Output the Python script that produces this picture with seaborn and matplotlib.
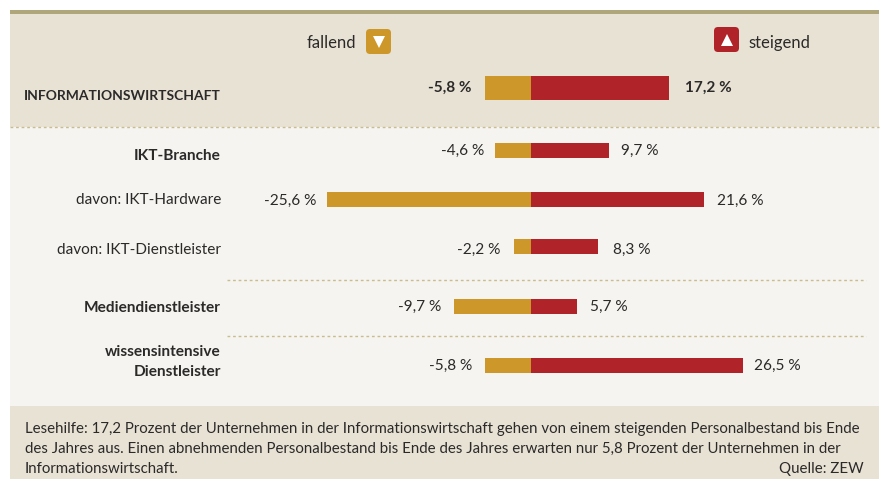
import matplotlib as mpl
from matplotlib import pyplot as plt
from matplotlib.patches import FancyBboxPatch, Rectangle
import seaborn as sns

categories = [
    "INFORMATIONSWIRTSCHAFT",
    "IKT-Branche",
    "davon: IKT-Hardware",
    "davon: IKT-Dienstleister",
    "Mediendienstleister",
    "wissensintensive\nDienstleister",
]
falling = [-5.8, -4.6, -25.6, -2.2, -9.7, -5.8]
rising = [17.2, 9.7, 21.6, 8.3, 5.7, 26.5]
note_lines = [
    "Lesehilfe: 17,2 Prozent der Unternehmen in der Informationswirtschaft gehen von einem steigenden Personalbestand bis Ende",
    "des Jahres aus. Einen abnehmenden Personalbestand bis Ende des Jahres erwarten nur 5,8 Prozent der Unternehmen in der",
    "Informationswirtschaft.",
]
source = "Quelle: ZEW"

# layout, in pixels of the 882x479 picture
row_y = [88, 150, 199, 246, 306, 365]
row_h = [24, 15, 15, 15, 15, 15]
label_y = [96, 156, 200, 249.5, 308, 362]
value_y = [88, 151, 201, 250, 307, 366]
fall_pad = [13, 10, 10, 13, 13, 13]
rise_pad = [16, 12, 13, 15, 13, 11]
bold_rows = [True, True, False, False, True, True]
ZERO_X = 531.4
PX_PER_UNIT = 8
PT_PER_PX = 0.72

GOLD = "#CD9829"
RED = "#B02329"
SAND = "#E8E2D5"
PAPER = "#F5F4F0"
RULE = "#B0A67C"
DOTS = "#C9BD8F"
INK = "#2B2A29"

sns.set_theme(style="white")
plt.rcParams["font.family"] = ["Lato", "DejaVu Sans"]
FS = 11.1
FS_NOTE = 10.8


def pct(value):
    return f"{value:.1f}".replace(".", ",") + " %"


fig = plt.figure(figsize=(8.82, 4.79), dpi=100)
fig.patch.set_facecolor("white")
ax = fig.add_axes([0, 0, 1, 1])


def px(x):
    # picture pixel to data units on the value axis
    return (x - ZERO_X) / PX_PER_UNIT


for top, bottom, color in [(14, 127, SAND), (127, 406, PAPER), (406, 479, SAND)]:
    ax.add_patch(
        Rectangle((px(10), top), 869 / PX_PER_UNIT, bottom - top, color=color, lw=0, zorder=0)
    )
ax.add_patch(Rectangle((px(10), 10), 869 / PX_PER_UNIT, 4, color=RULE, lw=0, zorder=1))

for y, x0, x1 in [(127, 10, 879), (280, 227, 866), (336, 227, 866)]:
    ax.plot([px(x0), px(x1)], [y, y], color=DOTS, lw=1, ls=(0, (2, 2)), zorder=1)

for i, category in enumerate(categories):
    for values, color, pads in [(falling, GOLD, fall_pad), (rising, RED, rise_pad)]:
        before = len(ax.containers)
        sns.barplot(
            x=[values[i]],
            y=[row_y[i]],
            orient="y",
            native_scale=True,
            width=row_h[i],
            color=color,
            saturation=1,
            linewidth=0,
            ax=ax,
        )
        labels = ax.bar_label(
            ax.containers[before],
            labels=[pct(values[i])],
            padding=pads[i] * PT_PER_PX,
            fontsize=FS,
            color=INK,
            fontweight="bold" if i == 0 else "normal",
        )
        # the numbers do not sit exactly on the bar centre
        x_off, _ = labels[0].xyann
        labels[0].xyann = (x_off, (row_y[i] - value_y[i]) * PT_PER_PX)
    ax.text(
        px(221),
        label_y[i],
        category,
        ha="right",
        va="center",
        fontsize=10.0 if i == 0 else FS,
        color=INK,
        fontweight="bold" if bold_rows[i] else "normal",
        linespacing=1.5,
    )

# legend
ax.text(px(356), 43, "fallend", ha="right", va="center", fontsize=12, color=INK)
ax.text(px(748), 43, "steigend", ha="left", va="center", fontsize=12, color=INK)
for x0, y0, color, marker in [(366, 29, GOLD, "v"), (714, 27, RED, "^")]:
    ax.add_patch(
        FancyBboxPatch(
            (px(x0 + 4), y0 + 4),
            17 / PX_PER_UNIT,
            17,
            boxstyle=mpl.patches.BoxStyle("Round", pad=4 / PX_PER_UNIT, rounding_size=4 / PX_PER_UNIT),
            mutation_aspect=PX_PER_UNIT,
            facecolor=color,
            edgecolor="none",
            zorder=2,
        )
    )
    ax.plot(px(x0 + 12.5), y0 + 12.5, marker=marker, ms=9, color="white", mew=0, zorder=3)

# reading note
for line, y in zip(note_lines, [429, 449, 469]):
    ax.text(px(25), y, line, ha="left", va="center", fontsize=FS_NOTE, color=INK)
ax.text(px(864), 469, source, ha="right", va="center", fontsize=FS_NOTE, color=INK)

ax.set_xlim(px(0), px(882))
ax.set_ylim(479, 0)
ax.axis("off")

fig.savefig("out.png", dpi=100)
